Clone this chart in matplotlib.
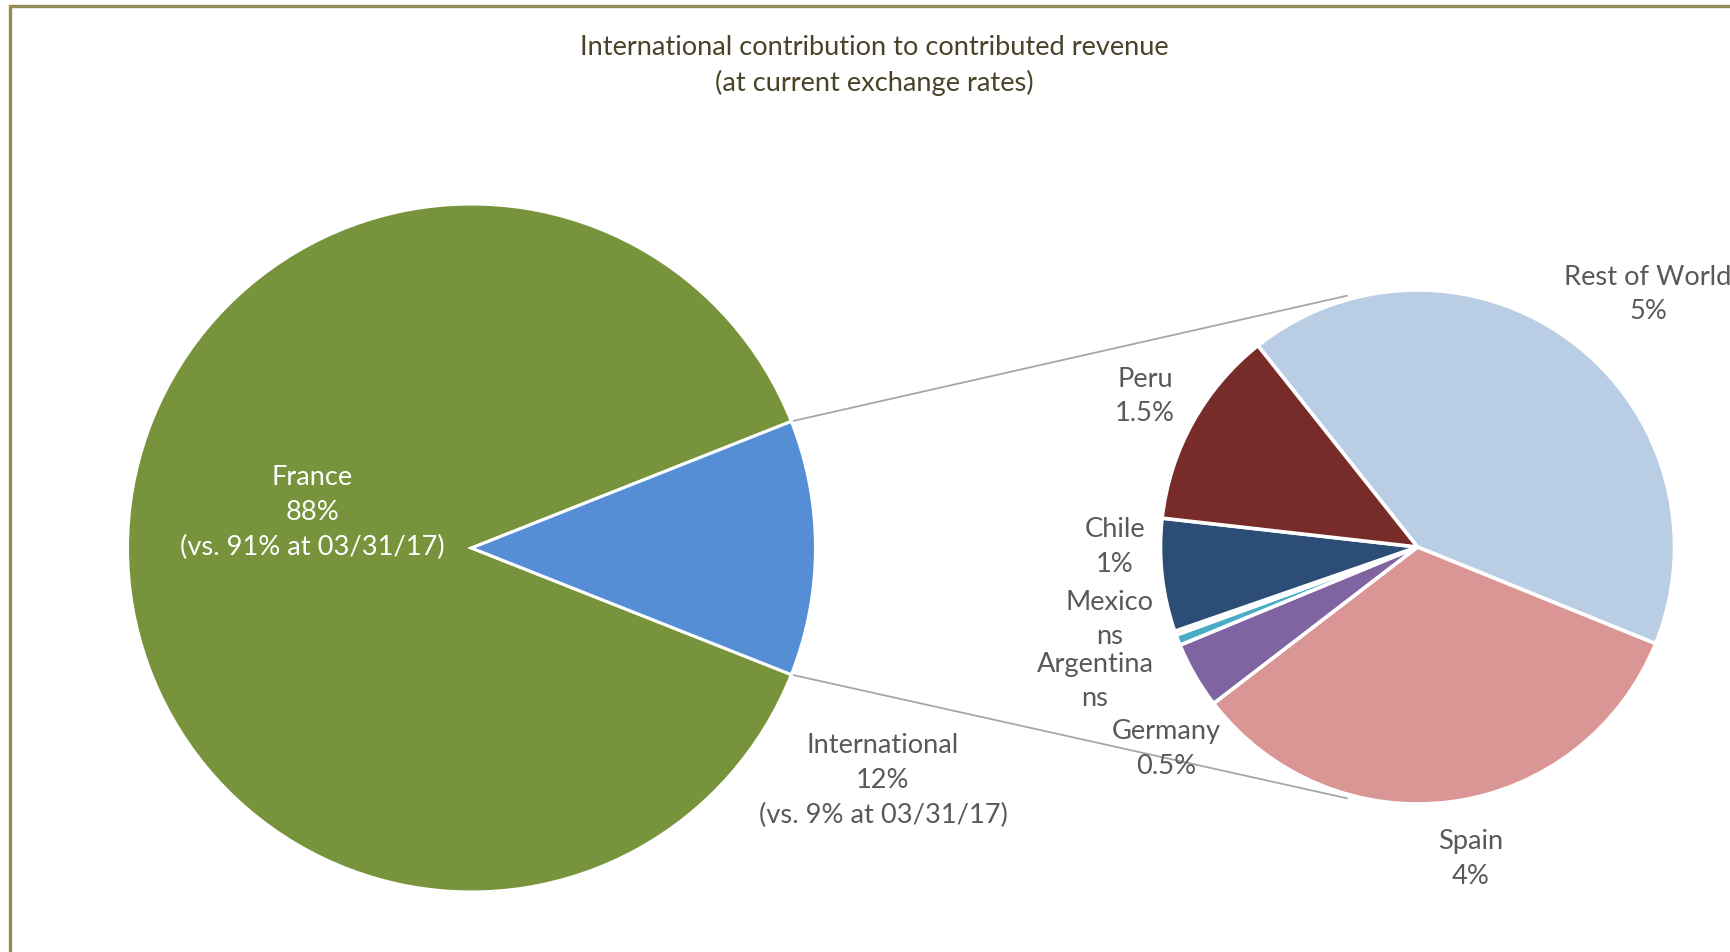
import matplotlib
matplotlib.use("Agg")
import matplotlib.pyplot as plt
from matplotlib.lines import Line2D
import numpy as np

# ---------------- data ----------------
main_labels = ["France", "International"]
main_values = [88, 12]
main_notes = ["(vs. 91% at 03/31/17)", "(vs. 9% at 03/31/17)"]
main_pct = ["88%", "12%"]

sub_labels = ["Rest of World", "Spain", "Germany", "Argentina", "Mexico", "Chile", "Peru"]
sub_values = [5, 4, 0.5, 0.08, 0.03, 0.85, 1.5]
sub_pct = ["5%", "4%", "0.5%", "ns", "ns", "1%", "1.5%"]

title_lines = ["International contribution to contributed revenue",
               "(at current exchange rates)"]

# ---------------- style ----------------
W, H = 1731, 952
FONT = ["Lato", "DejaVu Sans"]
plt.rcParams['font.family'] = FONT

main_colors = ["#77933C", "#558ED5"]
sub_colors = ["#B9CDE5", "#D99694", "#8064A2", "#4BACC6", "#F79646", "#2C4D75", "#772C2A"]
label_color = "#595959"
title_color = "#494429"
border_color = "#948A54"
conn_color = "#A6A6A6"

fig = plt.figure(figsize=(W / 100, H / 100), dpi=100)
ax = fig.add_axes([0, 0, 1, 1])
ax.set_xlim(0, W)
ax.set_ylim(0, H)
ax.set_aspect("equal")
ax.axis("off")

def Y(y):  # convert top-down pixel to axes y
    return H - y

# main pie
c1 = (471.5, Y(548))
r1 = 344
half_intl = 180.0 * main_values[1] / sum(main_values)
ax.pie(main_values, colors=main_colors, center=c1, radius=r1,
       startangle=half_intl, counterclock=True,
       wedgeprops=dict(edgecolor="white", linewidth=2.2), frame=True)

# sub pie
c2 = (1417.5, Y(547))
r2 = 257
ax.pie(sub_values, colors=sub_colors, center=c2, radius=r2,
       startangle=128.4, counterclock=False,
       wedgeprops=dict(edgecolor="white", linewidth=2.6), frame=True)
ax.set_xlim(0, W)
ax.set_ylim(0, H)
ax.axis("off")

# connector lines
conn_ang = 105.7
for s in (1, -1):
    a1 = np.radians(s * half_intl)
    a2 = np.radians(s * conn_ang)
    p1 = (c1[0] + r1 * np.cos(a1), c1[1] + r1 * np.sin(a1))
    p2 = (c2[0] + (r2 + 4) * np.cos(a2), c2[1] + (r2 + 4) * np.sin(a2))
    ax.plot([p1[0], p2[0]], [p1[1], p2[1]], color=conn_color, lw=1.3, zorder=0.5)

FS = 19.6
LS = 1.49

def label(x, y, lines, color=label_color):
    ax.text(x, Y(y + 2.5), "\n".join(lines), ha="center", va="center",
            fontsize=FS, color=color, linespacing=LS, zorder=5)

# title
label(874, 63, title_lines, color=title_color)

# main labels
label(312.4, 510, [main_labels[0], main_pct[0], main_notes[0]], color="white")
label(883, 778, [main_labels[1], main_pct[1], main_notes[1]])

# sub labels positions (top-down pixel)
sub_pos = {
    "Rest of World": (1648, 292),
    "Spain": (1470.5, 856.5),
    "Germany": (1166, 746.5),
    "Argentina": (1095, 679),
    "Mexico": (1109.5, 617),
    "Chile": (1115, 544.5),
    "Peru": (1145, 394),
}
for name, pct in zip(sub_labels, sub_pct):
    x, y = sub_pos[name]
    label(x, y, [name, pct])

# border (top and left)
fig.add_artist(Line2D([10.5 / W, 10.5 / W, 1.0], [0.0, 1 - 6 / H, 1 - 6 / H],
                      transform=fig.transFigure, color=border_color, lw=2.4,
                      solid_joinstyle="miter"))

fig.savefig("out.png", dpi=100)
